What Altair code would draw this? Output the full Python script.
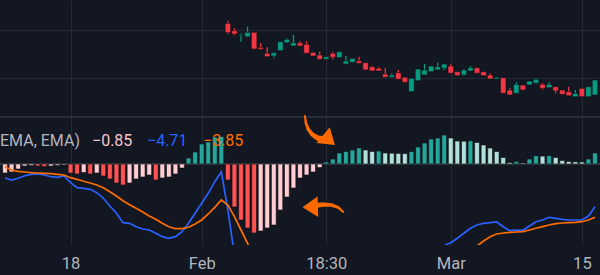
import altair as alt
import numpy as np
import pandas as pd

# ---- date axis (bar index -> label) ----
tick_pos = [10, 30, 49, 68, 88]
tick_text = ["18", "Feb", "18:30", "Mar", "15"]

# ---- MACD pane, one value per bar (bar 0 .. 90) ----
hist = [-0.90, -0.80, -0.50, -0.20, -0.15, -0.20, -0.25, -0.20, -0.15, -0.10,
        -0.90, -1.00, -0.85, -1.00, -0.90, -1.20, -1.50, -1.90, -2.10, -1.90,
        -1.50, -1.30, -1.10, -1.60, -1.40, -1.30, -1.00, -0.40, 0.60, 1.20,
        2.00, 2.20, 2.70, 2.75, -1.60, -4.30, -5.60, -6.40, -6.90, -6.70,
        -6.40, -6.10, -4.60, -3.30, -2.40, -1.40, -1.10, -0.80, -0.35, 0.20,
        0.50, 1.10, 1.25, 1.40, 1.60, 1.40, 1.25, 1.30, 1.10, 1.08,
        1.06, 1.04, 1.25, 1.70, 2.10, 2.50, 2.60, 2.90, 2.60, 2.30,
        2.28, 2.32, 2.15, 1.90, 1.60, 1.25, 0.65, 0.15, 0.25, 0.10,
        0.50, 0.82, 0.79, 0.83, 0.65, 0.35, 0.25, 0.22, 0.20, 0.50,
        1.10]
macd = [-1.40, -1.60, -1.43, -1.17, -1.03, -1.00, -1.10, -1.27, -1.33, -1.20,
        -1.87, -2.37, -2.43, -2.53, -2.87, -3.43, -4.20, -4.93, -5.87, -5.93,
        -6.27, -6.50, -6.60, -6.93, -7.27, -7.43, -7.27, -6.77, -5.93, -4.93,
        -3.93, -2.93, -1.77, -0.77, -4.60, -9.10, -10.6, -12.0, -13.2, -14.2,
        -14.9, -15.4, -15.6, -15.6, -15.4, -15.0, -14.6, -14.1, -13.6, -13.2,
        -12.8, -12.4, -12.1, -11.8, -11.5, -11.2, -10.9, -10.6, -10.3, -10.0,
        -9.7, -9.4, -9.2, -8.9, -8.7, -8.5, -8.3, -8.15, -7.87, -7.43,
        -6.93, -6.43, -6.10, -5.93, -5.87, -5.80, -6.27, -6.67, -6.60, -6.63,
        -6.20, -5.77, -5.60, -5.33, -5.43, -5.53, -5.60, -5.60, -5.60, -5.20,
        -4.27]
signal = [-0.27, -0.60, -0.73, -0.80, -0.87, -0.90, -0.93, -0.97, -1.03, -1.10,
          -1.37, -1.53, -1.73, -1.90, -2.10, -2.37, -2.77, -3.20, -3.67, -4.07,
          -4.43, -4.80, -5.20, -5.53, -5.93, -6.27, -6.47, -6.47, -6.33, -6.00,
          -5.60, -5.00, -4.33, -3.60, -4.10, -5.27, -6.60, -7.93, -9.10, -10.2,
          -11.2, -12.1, -12.8, -13.4, -13.8, -14.1, -14.3, -14.4, -14.4, -14.3,
          -14.1, -13.8, -13.5, -13.2, -12.9, -12.6, -12.3, -12.0, -11.7, -11.4,
          -11.1, -10.8, -10.5, -10.2, -9.9, -9.6, -9.4, -9.2, -9.0, -8.8,
          -8.6, -8.4, -8.2, -7.70, -7.27, -7.00, -6.90, -6.83, -6.80, -6.77,
          -6.60, -6.43, -6.27, -6.10, -5.97, -5.90, -5.87, -5.83, -5.77, -5.60,
          -5.33]

# ---- price candles, starting at bar 34 ----
candle_start = 34
opens = [51.40, 49.85, 48.90, 48.60, 49.52, 46.40, 45.15, 44.58, 45.69, 47.35,
         46.67, 47.35, 47.02, 45.35, 44.79, 43.90, 45.15, 44.23, 42.92, 43.27,
         43.60, 43.19, 42.35, 42.02, 40.83, 40.15, 41.10, 40.15, 37.15, 39.44,
         40.63, 41.31, 41.67, 42.02, 42.50, 41.31, 40.63, 41.46, 42.15, 41.31,
         40.63, 39.79, 40.06, 37.50, 36.81, 38.54, 38.54, 38.90, 38.69, 37.98,
         38.19, 37.50, 37.15, 36.10, 37.85, 36.10, 36.46]
highs = [51.94, 50.35, 49.31, 50.69, 49.52, 47.23, 46.40, 45.48, 47.56, 48.27,
         48.96, 47.65, 47.65, 45.35, 45.48, 44.44, 45.48, 45.48, 44.58, 44.10,
         44.44, 43.19, 42.56, 42.29, 42.02, 40.98, 41.67, 40.15, 39.94, 41.88,
         42.92, 42.50, 43.19, 42.92, 42.92, 41.31, 41.88, 42.50, 42.15, 41.31,
         40.98, 40.15, 40.06, 37.98, 39.10, 38.54, 39.38, 40.00, 38.96, 39.17,
         38.19, 37.50, 38.19, 37.50, 37.85, 38.19, 39.58]
lows = [49.17, 48.90, 47.56, 48.48, 45.98, 45.98, 44.44, 44.23, 45.69, 47.23,
        46.67, 46.67, 45.15, 44.58, 43.90, 43.90, 43.90, 44.23, 42.92, 43.27,
        43.06, 41.67, 41.46, 41.46, 40.15, 40.15, 39.73, 39.10, 37.15, 39.44,
        40.63, 41.31, 41.67, 41.67, 40.98, 40.48, 40.42, 41.46, 40.98, 40.48,
        39.79, 39.79, 36.81, 36.46, 36.81, 37.50, 38.54, 38.90, 37.60, 37.98,
        36.81, 36.60, 36.31, 36.10, 36.10, 36.10, 36.46]
closes = [49.44, 49.17, 49.10, 49.52, 46.04, 45.98, 44.44, 45.27, 47.56, 48.06,
          47.35, 46.67, 45.15, 44.58, 43.90, 44.44, 44.31, 45.48, 43.54, 44.10,
          43.06, 41.67, 41.46, 41.46, 40.15, 40.63, 39.73, 39.10, 39.94, 41.88,
          41.67, 42.50, 42.35, 42.92, 40.98, 40.48, 41.67, 42.15, 40.98, 40.48,
          39.79, 40.15, 36.81, 36.46, 38.69, 37.50, 39.38, 39.73, 37.85, 38.69,
          37.29, 36.60, 36.31, 36.81, 36.10, 38.19, 39.58]

# price levels carrying horizontal grid lines
price_grid = [40, 50]

# ---- hand-drawn annotation arrows (bar index, MACD value) ----
arrow_id = ["a", "a", "a", "a", "a", "a", "b", "b", "b", "b", "b"]
arrow_x = [45.75, 45.90, 46.28, 46.88, 47.70, 48.45, 51.60, 50.85, 49.80, 48.60, 47.40]
arrow_y = [4.80, 4.10, 3.45, 2.95, 2.60, 2.50, -4.80, -4.35, -4.10, -4.05, -4.15]
head_x = [49.13, 46.95]
head_y = [2.55, -4.30]
head_angle = [40, 178]

# legend row of the MACD pane
legend_items = ["EMA, EMA)", "\u22120.85", "\u22124.71", "\u22123.85"]

# ---- styling ----
BG = "#131722"
GRID = "#252934"
UP, DOWN = "#089981", "#f23645"
BLUE, ORANGE = "#2962ff", "#ff6d00"
ARROW = "#ff6a00"
TEXT = "#b2b5be"
FONT = "Roboto"

macd_df = pd.DataFrame({"i": range(len(hist)), "hist": hist, "macd": macd, "signal": signal})
prev = macd_df["hist"].shift(1).fillna(macd_df["hist"])
rising = macd_df["hist"] >= prev
macd_df["hcol"] = np.where(
    macd_df["hist"] >= 0,
    np.where(rising, "#26a69a", "#b2dfdb"),
    np.where(rising, "#ffcdd2", "#ff5252"),
)

candle_df = pd.DataFrame({
    "i": range(candle_start, candle_start + len(opens)),
    "open": opens, "high": highs, "low": lows, "close": closes,
})
candle_df["col"] = np.where(candle_df["close"] >= candle_df["open"], UP, DOWN)

shaft_df = pd.DataFrame({"arrow": arrow_id, "ax": arrow_x, "av": arrow_y})
shaft_df["k"] = shaft_df.groupby("arrow").cumcount()
head_df = pd.DataFrame({"ax": head_x, "av": head_y, "ang": head_angle})

# shared x scale / axis (bar index)
label_expr = "''"
for p, t in reversed(list(zip(tick_pos, tick_text))):
    label_expr = f"datum.value == {p} ? '{t}' : {label_expr}"

xs = alt.Scale(domain=[0, 90], nice=False, zero=False)
xaxis = alt.Axis(values=tick_pos, labelExpr=label_expr, grid=True, gridColor=GRID,
                 domain=False, ticks=False, title=None, labelColor=TEXT, labelFont=FONT,
                 labelFontSize=16.5, labelBaseline="alphabetic", labelPadding=23,
                 labelFlush=False, labelOverlap=False)


def X(field):
    return alt.X(f"{field}:Q", scale=xs, axis=xaxis)


# the price pane fills the top 117 px, the MACD pane the rest
price_scale = alt.Scale(domain=[5.2083, 56.25], nice=False, zero=False)
price_axis = alt.Axis(values=price_grid, grid=True, gridColor=GRID, labels=False,
                      ticks=False, domain=False, title=None)
macd_scale = alt.Scale(domain=[-8.1, 16.4], nice=False, zero=False)
PANE_SPLIT = 4.7

base_c = alt.Chart(candle_df)
wicks = base_c.mark_rule(strokeWidth=1.3).encode(
    x=X("i"),
    y=alt.Y("low:Q", scale=price_scale, axis=price_axis),
    y2="high:Q",
    color=alt.Color("col:N", scale=None),
)
bodies = base_c.mark_bar(size=5.6, orient="vertical", stroke="#0b0d12", strokeWidth=0.6).encode(
    x=X("i"),
    y=alt.Y("open:Q", scale=price_scale, axis=price_axis),
    y2="close:Q",
    color=alt.Color("col:N", scale=None),
)
candles = alt.layer(wicks, bodies)

base_m = alt.Chart(macd_df)
split = base_m.mark_rule(color="#2a2e39", strokeWidth=1).encode(
    y=alt.Y(datum=PANE_SPLIT, scale=macd_scale, axis=None))
zero = base_m.mark_rule(color="#363a45", strokeWidth=1).encode(
    y=alt.Y(datum=0, scale=macd_scale, axis=None))
bars = base_m.mark_bar(size=4.8, orient="vertical", clip=True, stroke="#0b0d12",
                       strokeWidth=0.6).encode(
    x=X("i"),
    y=alt.Y("hist:Q", scale=macd_scale, axis=None),
    color=alt.Color("hcol:N", scale=None),
)
macd_line = base_m.mark_line(color=BLUE, strokeWidth=1.7, clip=True).encode(
    x=X("i"), y=alt.Y("macd:Q", scale=macd_scale, axis=None))
signal_line = base_m.mark_line(color=ORANGE, strokeWidth=1.7, clip=True).encode(
    x=X("i"), y=alt.Y("signal:Q", scale=macd_scale, axis=None))

shafts = alt.Chart(shaft_df).mark_trail(color=ARROW).encode(
    x=X("ax"),
    y=alt.Y("av:Q", scale=macd_scale, axis=None),
    size=alt.Size("k:Q", scale=alt.Scale(range=[1.8, 6]), legend=None),
    detail="arrow:N",
    order="k:Q",
)
heads = alt.Chart(head_df).mark_point(
    shape="M1,0L-0.5,-1L-0.5,1Z", filled=True, color=ARROW, opacity=1, size=420, strokeWidth=0
).encode(
    x=X("ax"),
    y=alt.Y("av:Q", scale=macd_scale, axis=None),
    angle=alt.Angle("ang:Q", scale=None),
)

macd_pane = alt.layer(split, zero, bars, macd_line, signal_line, shafts, heads)

legend_x = [0, 92, 147, 203]
legend_col = [TEXT, "#f9c5cc", BLUE, ORANGE]
legend_layers = [
    alt.Chart(pd.DataFrame({"label": [t]})).mark_text(
        align="left", baseline="alphabetic", font=FONT, fontSize=16
    ).encode(x=alt.value(px), y=alt.value(146), text="label:N", color=alt.value(c))
    for t, px, c in zip(legend_items, legend_x, legend_col)
]

chart = alt.layer(candles, macd_pane, *legend_layers).resolve_scale(
    y="independent", size="independent"
).properties(
    width=600, height=245, background=BG,
    padding={"left": 0, "top": 0, "right": 0, "bottom": 30},
    autosize="none",
).configure_view(stroke=None)

chart.save("out.html", embed_options={"renderer": "svg", "actions": False})
